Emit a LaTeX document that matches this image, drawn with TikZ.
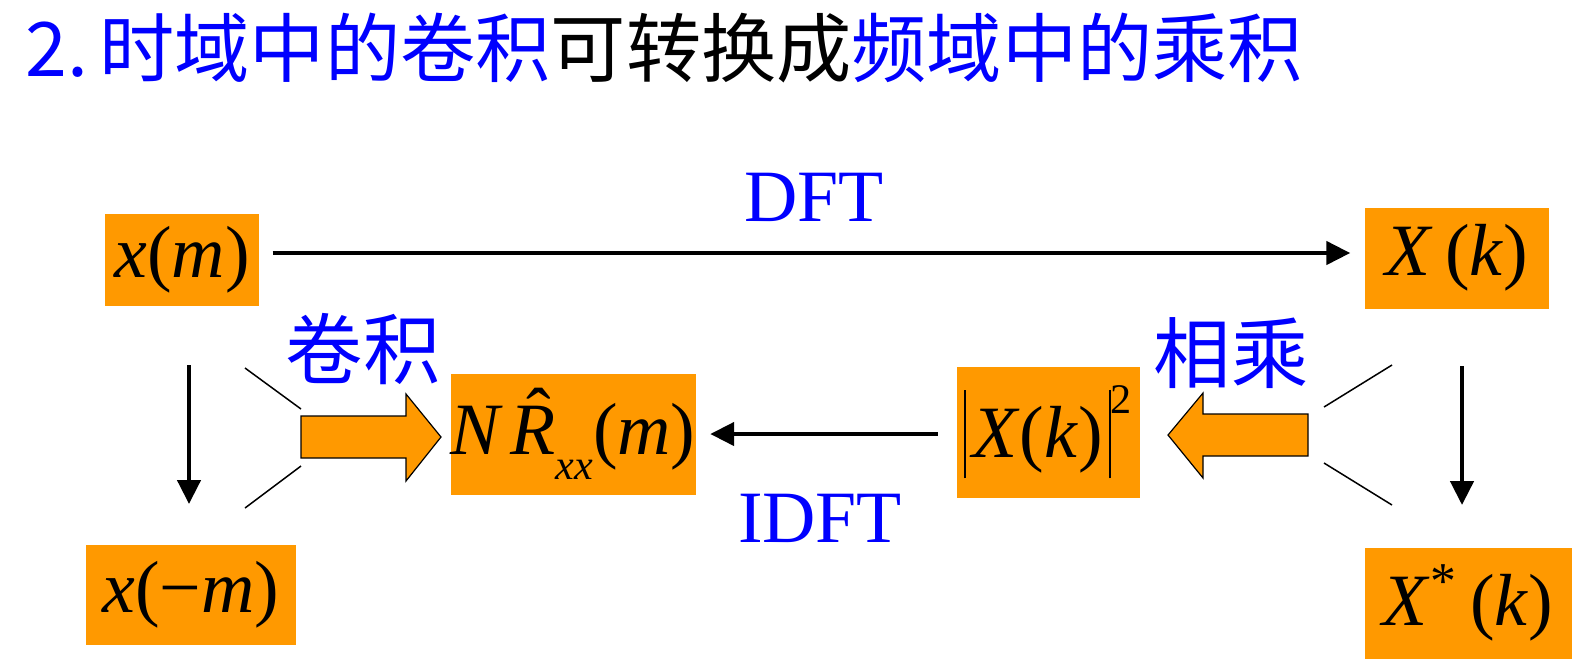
\documentclass[tikz,border=0pt]{standalone}
\usepackage{amsmath}
\usepackage{fontspec}
\setmainfont{Liberation Serif}
\newfontfamily\cjk{Noto Sans CJK SC}
\usepackage{tikz}
\usetikzlibrary{arrows.meta}
\usetikzlibrary{calc}
\definecolor{boxorange}{HTML}{FF9900}
\definecolor{labelblue}{HTML}{0000FF}
\newcommand{\tallbar}{\rule[-0.28em]{0.6pt}{1.2em}}
\tikzset{box/.style={fill=boxorange, inner sep=0pt, font=\fontsize{21}{21}\selectfont},
  flow/.style={line width=0.45mm, -{Triangle[length=2.4mm,width=2.3mm]}},
  fan/.style={line width=0.15mm},
  fat/.style={fill=boxorange, draw=black, line width=0.12mm},
  zh/.style={text=labelblue, inner sep=0pt, font=\cjk\fontsize{22}{22}\selectfont},
  en/.style={text=labelblue, inner sep=0pt, font=\fontsize{21}{21}\selectfont}}

\begin{document}
\begin{tikzpicture}[x=0.1mm, y=-0.1mm]
  \useasboundingbox (0,0) rectangle (1575,671);

  \node[anchor=west, inner sep=0pt, font=\cjk\fontsize{21.4}{21.4}\selectfont] (title) at (25,48)
    {\textcolor{labelblue}{2.\hspace{0.15em}时域中的卷积}可转换成\textcolor{labelblue}{频域中的乘积}};

  % the six boxes
  \node[box, minimum width=15.4mm, minimum height=9.2mm] (xm) at (182,260) {\textit{x}(\textit{m})};
  \node[box, minimum width=18.4mm, minimum height=10.1mm] (Xk) at (1457,258) {\textit{X}\,(\textit{k})};
  \node[box, minimum width=23.9mm, minimum height=12.1mm] (NR) at (573,434)
    {\textit{N}\hspace{0.1em}\rlap{\hspace{0.22em}\raisebox{0.2em}{ˆ}}\textit{R}\raisebox{-0.35em}{\fontsize{12}{12}\selectfont\textit{xx}}(\textit{m})};
  \node[box, minimum width=18.3mm, minimum height=13.1mm] (Xsq) at (1048,432)
    {\tallbar\hspace{0.08em}\textit{X}(\textit{k})\hspace{0.08em}\tallbar\raisebox{0.6em}{\fontsize{12}{12}\selectfont 2}};
  \node[box, minimum width=21mm, minimum height=10mm] (xmm) at (191,595) {\textit{x}(\textminus\textit{m})};
  \node[box, minimum width=20.7mm, minimum height=11.1mm] (Xs) at (1468,603)
    {\textit{X}\textsuperscript{*}\,(\textit{k})};

  \node[en] (dft) at (814,197) {DFT};
  \node[en] (idft) at (820,518) {IDFT};
  \node[zh] (conv) at (363,349) {卷积};
  \node[zh] (mult) at (1231,353) {相乘};

  \draw[flow] ($(xm.east)+(13,-7)$) -- ($(Xk.west)+(-14,-5)$);
  \draw[flow] ($(Xsq.west)+(-18,2)$) -- ($(NR.east)+(14,0)$);

  \coordinate (ltop) at (189,365);
  \coordinate (lbot) at (189,504);
  \coordinate (rtop) at (1462,366);
  \coordinate (rbot) at (1462,505);
  \draw[flow] (ltop) -- (lbot);
  \draw[flow] (rtop) -- (rbot);

  % fans and fat arrows
  \draw[fan] (245,368) -- (301,409);
  \draw[fan] (245,508) -- (301,466);
  \draw[fat] (301,416) -- (406,416) -- (406,394) -- (441,437) -- (406,481) -- (406,458) -- (301,458) -- cycle;

  \draw[fan] (1392,365) -- (1324,407);
  \draw[fan] (1392,505) -- (1324,463);
  \draw[fat] (1308,414) -- (1203,414) -- (1203,393) -- (1168,435) -- (1203,478) -- (1203,456) -- (1308,456) -- cycle;
\end{tikzpicture}
\end{document}
